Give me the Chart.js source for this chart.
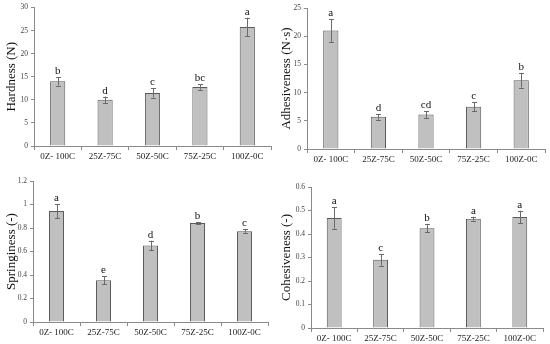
<!DOCTYPE html>
<html>
<head>
<meta charset="utf-8">
<script src="https://cdn.jsdelivr.net/npm/chart.js@4"></script>
<style>
    body { margin: 0; background: #fff; }
    #wrap { position: relative; width: 550px; height: 344px; overflow: hidden; }
    .panel { position: absolute; width: 275px; height: 172px; }
</style>
</head>
<body>
<div id="wrap">
    <div class="panel" style="left:0;top:0"><canvas id="c1"></canvas></div>
    <div class="panel" style="left:275px;top:0"><canvas id="c2"></canvas></div>
    <div class="panel" style="left:0;top:172px"><canvas id="c3"></canvas></div>
    <div class="panel" style="left:275px;top:172px"><canvas id="c4"></canvas></div>
</div>
<script>
// Data
const categories = ['0Z- 100C', '25Z-75C', '50Z-50C', '75Z-25C', '100Z-0C'];

const hardness = [14.0, 10.0, 11.5, 12.8, 25.8];
const hardnessErr = [0.9, 0.7, 1.0, 0.6, 2.0];
const hardnessLetters = ['b', 'd', 'c', 'bc', 'a'];

const adhesiveness = [21.0, 5.7, 6.1, 7.5, 12.2];
const adhesivenessErr = [2.0, 0.5, 0.6, 0.8, 1.3];
const adhesivenessLetters = ['a', 'd', 'cd', 'c', 'b'];

const springiness = [0.944, 0.355, 0.652, 0.842, 0.773];
const springinessErr = [0.06, 0.035, 0.04, 0.01, 0.015];
const springinessLetters = ['a', 'e', 'd', 'b', 'c'];

const cohesiveness = [0.468, 0.29, 0.425, 0.465, 0.472];
const cohesivenessErr = [0.045, 0.025, 0.018, 0.008, 0.027];
const cohesivenessLetters = ['a', 'c', 'b', 'a', 'a'];

const SERIF = '"Liberation Serif", "Times New Roman", serif';

// Draws error bars and significance letters above each bar
const errorLetterPlugin = {
    id: 'errorLetters',
    afterDatasetsDraw(chart) {
        const ds = chart.data.datasets[0];
        const meta = chart.getDatasetMeta(0);
        const yScale = chart.scales.y;
        const ctx = chart.ctx;
        ctx.save();
        meta.data.forEach((bar, i) => {
            const v = ds.data[i];
            const e = ds.errors[i];
            const x = Math.round(bar.x) + 0.5;
            const yTop = yScale.getPixelForValue(v + e);
            const yBot = yScale.getPixelForValue(v - e);
            ctx.strokeStyle = '#6a6a6a';
            ctx.lineWidth = 1;
            ctx.beginPath();
            ctx.moveTo(x, yTop);
            ctx.lineTo(x, yBot);
            ctx.moveTo(x - 2.5, Math.round(yTop) + 0.5);
            ctx.lineTo(x + 2.5, Math.round(yTop) + 0.5);
            ctx.moveTo(x - 2.5, Math.round(yBot) + 0.5);
            ctx.lineTo(x + 2.5, Math.round(yBot) + 0.5);
            ctx.stroke();

            ctx.fillStyle = '#111';
            ctx.font = '11px ' + SERIF;
            ctx.textAlign = 'center';
            ctx.textBaseline = 'alphabetic';
            ctx.fillText(ds.letters[i], bar.x, yTop - 3);
        });
        ctx.restore();
    }
};

function fmtTick(v) {
    return String(+v.toFixed(2));
}

function makePanel(id, opts) {
    const canvas = document.getElementById(id);
    return new Chart(canvas, {
        type: 'bar',
        data: {
            labels: categories,
            datasets: [{
                data: opts.values,
                errors: opts.errors,
                letters: opts.letters,
                backgroundColor: '#c0c0c0',
                borderColor: '#5a5a5a',
                borderWidth: 1,
                barPercentage: 0.32,
                categoryPercentage: 1.0
            }]
        },
        options: {
            responsive: true,
            maintainAspectRatio: false,
            animation: false,
            layout: {
                padding: { left: 0, top: opts.top, right: opts.right, bottom: 0 }
            },
            plugins: {
                legend: { display: false },
                tooltip: { enabled: false }
            },
            scales: {
                x: {
                    afterFit: function(scale) { scale.height = opts.xHeight; },
                    grid: {
                        drawOnChartArea: false,
                        tickLength: 4,
                        color: '#8a8a8a',
                        offset: true
                    },
                    border: { display: true, color: '#8a8a8a', width: 1 },
                    ticks: {
                        padding: 1,
                        color: '#222',
                        font: { family: SERIF, size: 9 },
                        maxRotation: 0,
                        autoSkip: false
                    }
                },
                y: {
                    min: 0,
                    max: opts.max,
                    afterFit: function(scale) { scale.width = opts.yWidth; },
                    grid: {
                        drawOnChartArea: false,
                        tickLength: 3,
                        color: '#8a8a8a'
                    },
                    border: { display: true, color: '#8a8a8a', width: 1 },
                    ticks: {
                        stepSize: opts.step,
                        padding: 3,
                        color: '#444',
                        font: { family: SERIF, size: 7.5 },
                        callback: fmtTick
                    },
                    title: {
                        display: true,
                        text: opts.title,
                        color: '#111',
                        font: { family: SERIF, size: 13 },
                        padding: { top: 4, bottom: 0 }
                    }
                }
            }
        },
        plugins: [errorLetterPlugin]
    });
}

makePanel('c1', {
    values: hardness, errors: hardnessErr, letters: hardnessLetters,
    title: 'Hardness (N)', max: 30, step: 5,
    top: 6, right: 4, xHeight: 26, yWidth: 34
});
makePanel('c2', {
    values: adhesiveness, errors: adhesivenessErr, letters: adhesivenessLetters,
    title: 'Adhesiveness (N\u00b7s)', max: 25, step: 5,
    top: 8, right: 5, xHeight: 23, yWidth: 32
});
makePanel('c3', {
    values: springiness, errors: springinessErr, letters: springinessLetters,
    title: 'Springiness (-)', max: 1.2, step: 0.2,
    top: 9, right: 7, xHeight: 22, yWidth: 33
});
makePanel('c4', {
    values: cohesiveness, errors: cohesivenessErr, letters: cohesivenessLetters,
    title: 'Cohesiveness (-)', max: 0.6, step: 0.1,
    top: 15, right: 7, xHeight: 16, yWidth: 36
});
</script>
</body>
</html>
